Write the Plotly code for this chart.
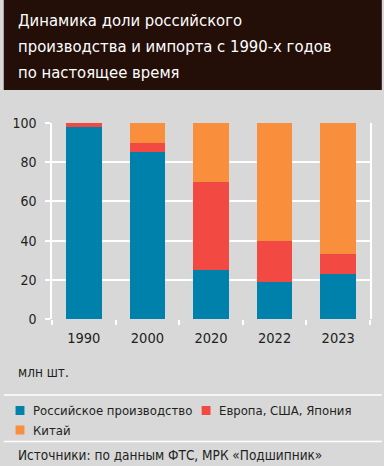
import plotly.graph_objects as go

# ---- data ----
years = ["1990", "2000", "2020", "2022", "2023"]
russian = [98, 85, 25, 19, 23]
europe = [2, 5, 45, 21, 10]
china = [0, 10, 30, 60, 67]
series_names = ["Российское производство", "Европа, США, Япония", "Китай"]
y_ticks = [0, 20, 40, 60, 80, 100]

title_lines = ["Динамика доли российского",
               "производства и импорта с 1990-х годов",
               "по настоящее время"]
unit_text = "млн шт."
source_text = "Источники: по данным ФТС, МРК «Подшипник»"

# ---- style ----
BLUE = "#0081AB"
RED = "#F24A43"
ORANGE = "#F98E3C"
BG = "#D8D8D8"
DARK = "#230E08"
TXT = "#231F1C"
FONT = "DejaVu Sans Condensed, Liberation Sans Narrow, sans-serif"

W, H = 384, 466
ML, MR, MT, MB = 49, 12, 123, 147
PW, PH = W - ML - MR, H - MT - MB


def px_x(px):
    return (px - ML) / PW


def px_y(py):
    return (MT + PH - py) / PH


fig = go.Figure()
for name, vals, col in zip(series_names, [russian, europe, china], [BLUE, RED, ORANGE]):
    fig.add_trace(go.Bar(x=years, y=vals, name=name, marker=dict(color=col, line=dict(width=0)),
                         showlegend=False, hoverinfo="skip"))

fig.update_layout(
    width=W, height=H, barmode="stack", bargap=0.44,
    margin=dict(l=ML, r=MR, t=MT, b=MB, pad=0),
    paper_bgcolor=BG, plot_bgcolor=BG,
    font=dict(family=FONT, color=TXT, size=14),
)
fig.update_xaxes(type="category", showgrid=False, showline=False, zeroline=False,
                 ticks="outside", tickson="boundaries", ticklen=5, tickcolor="white", tickwidth=1.5,
                 tickfont=dict(size=14.5, color=TXT), ticklabelstandoff=8)
fig.update_yaxes(range=[0, 100], tickvals=y_ticks, showgrid=True, gridcolor="white", gridwidth=1.5,
                 zeroline=False, showline=True, linecolor="white", linewidth=1.5, mirror=True,
                 ticks="outside", ticklen=5, tickcolor="white", tickwidth=1.5,
                 tickfont=dict(size=14, color=TXT), ticklabelstandoff=6)

shapes = []
# title band
shapes.append(dict(type="rect", xref="paper", yref="paper", x0=px_x(0), x1=px_x(W),
                   y0=px_y(90), y1=px_y(0), fillcolor=DARK, line=dict(width=0), layer="below"))
# separators
for sy in [395, 441.5]:
    shapes.append(dict(type="line", xref="paper", yref="paper", x0=px_x(0), x1=px_x(W),
                       y0=px_y(sy), y1=px_y(sy), line=dict(color="white", width=1.5)))

annotations = []
for i, line in enumerate(title_lines):
    annotations.append(dict(text=line, xref="paper", yref="paper", x=px_x(12), y=px_y(20 + 26 * i),
                            xanchor="left", yanchor="middle", showarrow=False,
                            font=dict(family=FONT, size=16.5, color="white")))
annotations.append(dict(text=unit_text, xref="paper", yref="paper", x=px_x(12), y=px_y(372),
                        xanchor="left", yanchor="middle", showarrow=False,
                        font=dict(family=FONT, size=13.5, color=TXT)))
annotations.append(dict(text=source_text, xref="paper", yref="paper", x=px_x(12), y=px_y(455),
                        xanchor="left", yanchor="middle", showarrow=False,
                        font=dict(family=FONT, size=13.5, color=TXT)))

# custom legend
leg_pos = [(12, 410.5), (201, 410.5), (12, 430)]
for (lx, ly), name, col in zip(leg_pos, series_names, [BLUE, RED, ORANGE]):
    shapes.append(dict(type="rect", xref="paper", yref="paper", x0=px_x(lx), x1=px_x(lx + 9),
                       y0=px_y(ly + 4.5), y1=px_y(ly - 4.5), fillcolor=col, line=dict(width=0)))
    annotations.append(dict(text=name, xref="paper", yref="paper", x=px_x(lx + 16), y=px_y(ly),
                            xanchor="left", yanchor="middle", showarrow=False,
                            font=dict(family=FONT, size=13, color=TXT)))

fig.update_layout(shapes=shapes, annotations=annotations)
fig.write_html("out.html", config={"displayModeBar": False},
               post_script="document.body.style.margin='0';document.body.style.padding='0';")
